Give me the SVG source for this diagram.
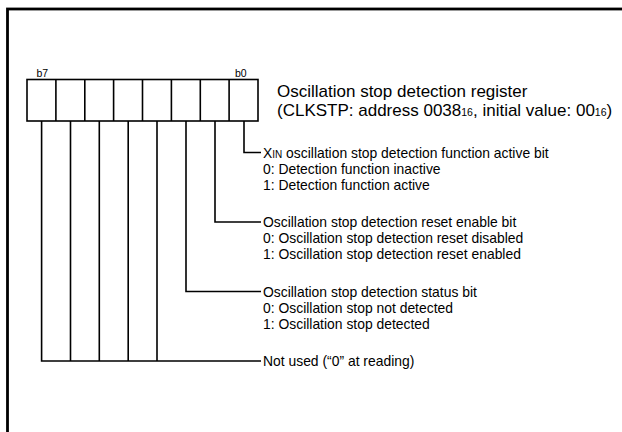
<svg xmlns="http://www.w3.org/2000/svg" width="622" height="432" viewBox="0 0 622 432">
<style>
text{font-family:"Liberation Sans",Arial,sans-serif;fill:#000}
.d{font-size:13.9px}
.t{font-size:17px}
.b{font-size:10.5px}
.s{font-size:10.5px}
.x{font-size:10px}
.ln{fill:none;stroke:#000;stroke-width:1.6}
</style>
<rect width="622" height="432" fill="#fff"/>
<rect x="7.5" y="9" width="640" height="450" fill="none" stroke="#000" stroke-width="2.8"/>
<g id="register">
<rect x="27" y="79.5" width="231" height="41.5" class="ln"/>
<path class="ln" d="M55.9 79.5V121M84.8 79.5V121M113.6 79.5V121M142.5 79.5V121M171.4 79.5V121M200.3 79.5V121M229.1 79.5V121"/>
<text class="b" x="36.5" y="77">b7</text>
<text class="b" x="235" y="77">b0</text>
</g>
<g id="title">
<text class="t" x="277" y="97">Oscillation stop detection register</text>
<text class="t" x="277" y="116">(CLKSTP: address 0038<tspan class="s">16</tspan>, initial value: 00<tspan class="s">16</tspan>)</text>
</g>
<g id="connectors">
<path class="ln" d="M244 121V152.5H261"/>
<path class="ln" d="M215 121V222H261"/>
<path class="ln" d="M186 121V291.5H261"/>
<path class="ln" d="M157 121V361M128.2 121V361M99.3 121V361M70.5 121V361M41.6 121V361H261"/>
</g>
<g id="bit0">
<text class="d" x="263" y="157.5">X<tspan class="x">IN</tspan> oscillation stop detection function active bit</text>
<text class="d" x="263" y="173.5">0: Detection function inactive</text>
<text class="d" x="263" y="189.5">1: Detection function active</text>
</g>
<g id="bit1">
<text class="d" x="263" y="227">Oscillation stop detection reset enable bit</text>
<text class="d" x="263" y="243">0: Oscillation stop detection reset disabled</text>
<text class="d" x="263" y="259">1: Oscillation stop detection reset enabled</text>
</g>
<g id="bit2">
<text class="d" x="263" y="296.5">Oscillation stop detection status bit</text>
<text class="d" x="263" y="312.5">0: Oscillation stop not detected</text>
<text class="d" x="263" y="328.5">1: Oscillation stop detected</text>
</g>
<g id="bits3to7">
<text class="d" x="263" y="366">Not used (“0” at reading)</text>
</g>
</svg>
